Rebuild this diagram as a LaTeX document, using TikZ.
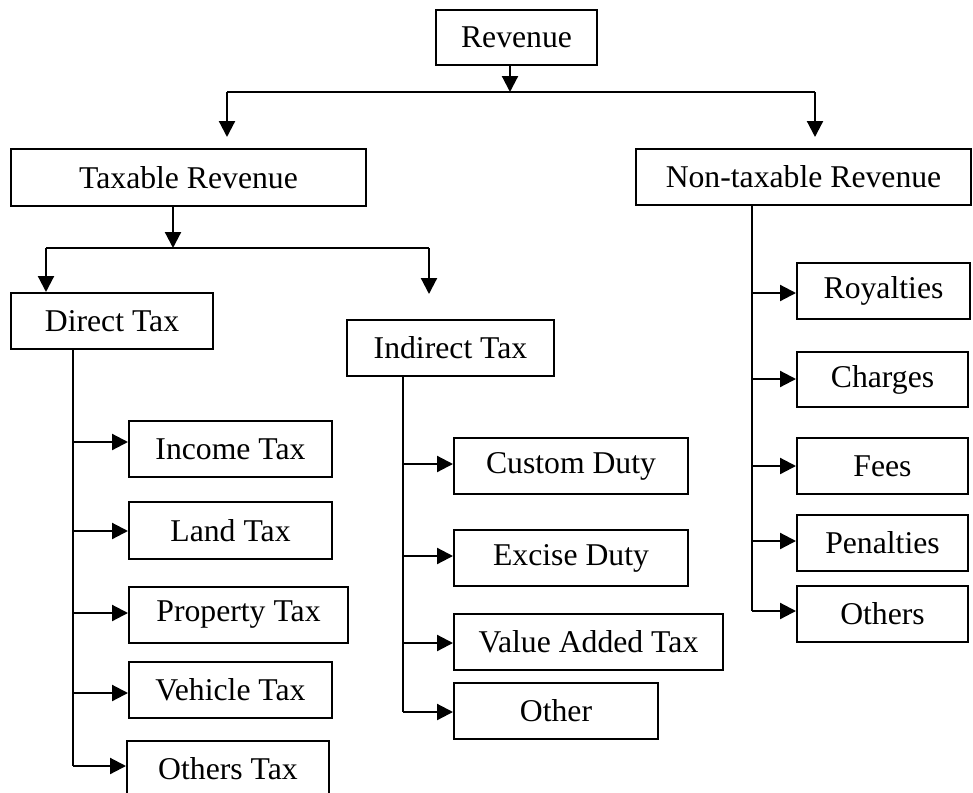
\documentclass[tikz,border=0pt]{standalone}
\usepackage{fontspec}
\setmainfont{Liberation Serif}
\usetikzlibrary{arrows.meta}
\tikzset{
  box/.style={draw=black, line width=2pt, rectangle, inner sep=0pt, fill=white,
    font=\fontsize{31.7}{38}\selectfont, text=black},
  conn/.style={draw=black, line width=2.2pt},
  arr/.style={conn, -{Triangle[length=16pt,width=16pt]}}
}
\begin{document}
\begin{tikzpicture}[x=1pt,y=-1pt]
\clip (0,0) rectangle (973,792);
\fill[white] (0,0) rectangle (973,792);
% boxes
\node[box, minimum width=161pt, minimum height=55pt] (rev) at (516.5,37.5) {Revenue};
\node[box, minimum width=355pt, minimum height=57pt] (tax) at (188.5,177.5) {Taxable Revenue};
\node[box, minimum width=335pt, minimum height=56pt] (non) at (803.5,177) {Non-taxable Revenue};
\node[box, minimum width=202pt, minimum height=56pt] (dir) at (112,321) {Direct Tax};
\node[box, minimum width=207pt, minimum height=56pt] (ind) at (450.5,348) {Indirect Tax};
\node[box, minimum width=203pt, minimum height=56pt] (inc) at (230.5,449) {Income Tax};
\node[box, minimum width=203pt, minimum height=57pt] (land) at (230.5,530.5) {Land Tax};
\node[box, minimum width=219pt, minimum height=56pt] (prop) at (238.5,615) {Property Tax};
\node[box, minimum width=203pt, minimum height=56pt] (veh) at (230.5,690) {Vehicle Tax};
\node[box, minimum width=202pt, minimum height=56pt] (otax) at (228,769) {Others Tax};
\node[box, minimum width=234pt, minimum height=56pt] (cust) at (571,466) {Custom Duty};
\node[box, minimum width=234pt, minimum height=56pt] (exc) at (571,558) {Excise Duty};
\node[box, minimum width=269pt, minimum height=56pt] (vat) at (588.5,642) {Value Added Tax};
\node[box, minimum width=204pt, minimum height=56pt] (oth) at (556,711) {Other};
\node[box, minimum width=173pt, minimum height=56pt] (roy) at (883.5,291) {Royalties};
\node[box, minimum width=171pt, minimum height=55pt] (chg) at (882.5,379.5) {Charges};
\node[box, minimum width=171pt, minimum height=56pt] (fee) at (882.5,466) {Fees};
\node[box, minimum width=171pt, minimum height=56pt] (pen) at (882.5,543) {Penalties};
\node[box, minimum width=171pt, minimum height=56pt] (oths) at (882.5,614) {Others};
% top level
\coordinate (j1) at (510,92);
\coordinate (l1) at (227,92);
\coordinate (r1) at (815,92);
\coordinate (l1t) at (227,137);
\coordinate (r1t) at (815,137);
\draw[arr] (rev.south -| j1) -- (j1);
\draw[conn] (l1) -- (r1);
\draw[arr] (l1) -- (l1t);
\draw[arr] (r1) -- (r1t);
% taxable
\coordinate (j2) at (173,248);
\coordinate (l2) at (46,248);
\coordinate (r2) at (429,248);
\coordinate (r2t) at (429,294);
\draw[arr] (tax.south -| j2) -- (j2);
\draw[conn] (l2) -- (r2);
\draw[arr] (l2) -- (l2 |- dir.north);
\draw[arr] (r2) -- (r2t);
% direct
\coordinate (d1) at (73,442);
\coordinate (d2) at (73,531);
\coordinate (d3) at (73,613);
\coordinate (d4) at (73,693);
\coordinate (d5) at (73,766);
\draw[conn] (dir.south -| d1) -- (d5);
\draw[arr] (d1) -- (d1 -| inc.west);
\draw[arr] (d2) -- (d2 -| land.west);
\draw[arr] (d3) -- (d3 -| prop.west);
\draw[arr] (d4) -- (d4 -| veh.west);
\draw[arr] (d5) -- (d5 -| otax.west);
% indirect
\coordinate (i1) at (403,464);
\coordinate (i2) at (403,556);
\coordinate (i3) at (403,643);
\coordinate (i4) at (403,712);
\draw[conn] (ind.south -| i1) -- (i4);
\draw[arr] (i1) -- (i1 -| cust.west);
\draw[arr] (i2) -- (i2 -| exc.west);
\draw[arr] (i3) -- (i3 -| vat.west);
\draw[arr] (i4) -- (i4 -| oth.west);
% non-taxable
\coordinate (n1) at (752,293);
\coordinate (n2) at (752,379);
\coordinate (n3) at (752,466);
\coordinate (n4) at (752,541);
\coordinate (n5) at (752,611);
\draw[conn] (non.south -| n1) -- (n5);
\draw[arr] (n1) -- (n1 -| roy.west);
\draw[arr] (n2) -- (n2 -| chg.west);
\draw[arr] (n3) -- (n3 -| fee.west);
\draw[arr] (n4) -- (n4 -| pen.west);
\draw[arr] (n5) -- (n5 -| oths.west);
\end{tikzpicture}
\end{document}
